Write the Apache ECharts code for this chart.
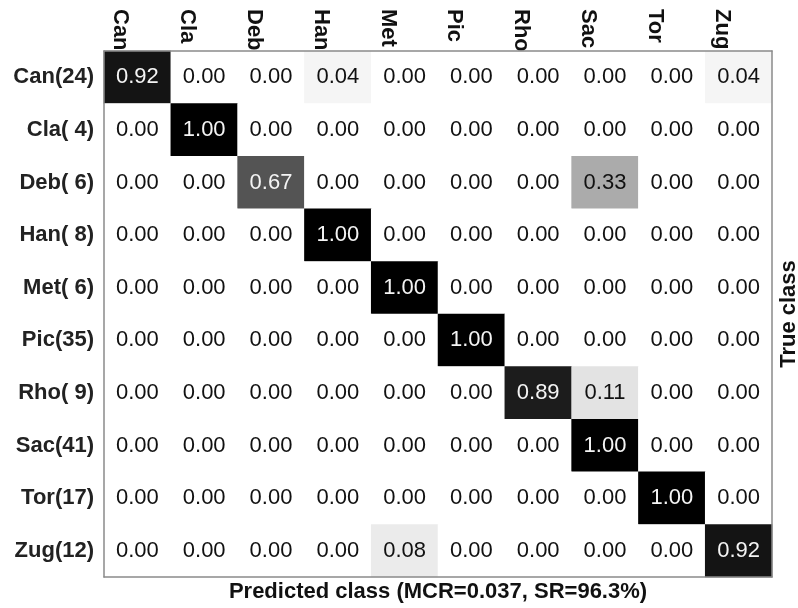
<!DOCTYPE html>
<html>
<head>
<meta charset="utf-8">
<script src="https://cdn.jsdelivr.net/npm/echarts@6/dist/echarts.min.js"></script>
<style>
  html, body { margin: 0; padding: 0; background: #ffffff; }
  #chart { width: 798px; height: 608px; }
</style>
</head>
<body>
<div id="chart"></div>
<script>
// Predicted classes (columns) and true classes with sample counts (rows)
const predictedClasses = ['Can', 'Cla', 'Deb', 'Han', 'Met', 'Pic', 'Rho', 'Sac', 'Tor', 'Zug'];
const trueClassLabels = ['Can(24)', 'Cla( 4)', 'Deb( 6)', 'Han( 8)', 'Met( 6)', 'Pic(35)', 'Rho( 9)', 'Sac(41)', 'Tor(17)', 'Zug(12)'];

// Row-normalised confusion matrix, one array per true class
const rowCan = [0.92, 0.00, 0.00, 0.04, 0.00, 0.00, 0.00, 0.00, 0.00, 0.04];
const rowCla = [0.00, 1.00, 0.00, 0.00, 0.00, 0.00, 0.00, 0.00, 0.00, 0.00];
const rowDeb = [0.00, 0.00, 0.67, 0.00, 0.00, 0.00, 0.00, 0.33, 0.00, 0.00];
const rowHan = [0.00, 0.00, 0.00, 1.00, 0.00, 0.00, 0.00, 0.00, 0.00, 0.00];
const rowMet = [0.00, 0.00, 0.00, 0.00, 1.00, 0.00, 0.00, 0.00, 0.00, 0.00];
const rowPic = [0.00, 0.00, 0.00, 0.00, 0.00, 1.00, 0.00, 0.00, 0.00, 0.00];
const rowRho = [0.00, 0.00, 0.00, 0.00, 0.00, 0.00, 0.89, 0.11, 0.00, 0.00];
const rowSac = [0.00, 0.00, 0.00, 0.00, 0.00, 0.00, 0.00, 1.00, 0.00, 0.00];
const rowTor = [0.00, 0.00, 0.00, 0.00, 0.00, 0.00, 0.00, 0.00, 1.00, 0.00];
const rowZug = [0.00, 0.00, 0.00, 0.00, 0.08, 0.00, 0.00, 0.00, 0.00, 0.92];

const xTitle = 'Predicted class (MCR=0.037, SR=96.3%)';
const yTitle = 'True class';

const matrix = [rowCan, rowCla, rowDeb, rowHan, rowMet, rowPic, rowRho, rowSac, rowTor, rowZug];

const FONT = "'Liberation Sans', Arial, sans-serif";
const LINE = { show: true, lineStyle: { color: '#8a8a8a', width: 1.5 } };

const cells = [];
matrix.forEach((row, r) => {
  row.forEach((v, c) => {
    cells.push({
      value: [c, r, v],
      label: { color: v > 0.5 ? '#f4f4f4' : '#111111' }
    });
  });
});

const chart = echarts.init(document.getElementById('chart'), null, { renderer: 'canvas' });

chart.setOption({
  animation: false,
  backgroundColor: '#ffffff',
  grid: { left: 104, top: 51, width: 668, height: 526, containLabel: false, outerBoundsMode: 'none' },
  xAxis: [
    {
      // column names along the top, running down and tucked under the matrix
      type: 'category',
      data: predictedClasses,
      position: 'top',
      z: 0,
      axisLine: { show: false },
      axisTick: { show: false },
      splitLine: { show: false },
      axisLabel: {
        interval: 0,
        rotate: 90,
        align: 'left',
        verticalAlign: 'top',
        margin: 42,
        padding: [6, 0, 0, 0],
        fontFamily: FONT,
        fontSize: 22,
        fontWeight: 'bold',
        color: '#111111'
      }
    },
    {
      type: 'category',
      data: predictedClasses,
      position: 'bottom',
      z: 5,
      axisLine: LINE,
      axisTick: { show: false },
      axisLabel: { show: false },
      name: xTitle,
      nameLocation: 'middle',
      nameGap: 4,
      nameTextStyle: { fontFamily: FONT, fontSize: 22, fontWeight: 'bold', color: '#111111', verticalAlign: 'top' }
    },
    {
      type: 'category',
      data: predictedClasses,
      position: 'top',
      z: 5,
      axisLine: LINE,
      axisTick: { show: false },
      axisLabel: { show: false }
    }
  ],
  yAxis: [
    {
      type: 'category',
      data: trueClassLabels,
      inverse: true,
      position: 'left',
      z: 5,
      axisLine: LINE,
      axisTick: { show: false },
      splitLine: { show: false },
      axisLabel: {
        interval: 0,
        margin: 10,
        fontFamily: FONT,
        fontSize: 22,
        fontWeight: 'bold',
        color: '#222222'
      }
    },
    {
      type: 'category',
      data: trueClassLabels,
      inverse: true,
      position: 'right',
      z: 5,
      axisLine: LINE,
      axisTick: { show: false },
      axisLabel: { show: false },
      name: yTitle,
      nameLocation: 'middle',
      nameRotate: 90,
      nameGap: 6,
      nameTextStyle: { fontFamily: FONT, fontSize: 22, fontWeight: 'bold', color: '#111111' }
    }
  ],
  visualMap: {
    show: false,
    type: 'continuous',
    min: 0,
    max: 1,
    dimension: 2,
    seriesIndex: 0,
    inRange: { color: ['#ffffff', '#000000'] }
  },
  series: [
    {
      type: 'heatmap',
      xAxisIndex: 0,
      yAxisIndex: 0,
      data: cells,
      itemStyle: { borderWidth: 0 },
      label: {
        show: true,
        fontFamily: FONT,
        fontSize: 22,
        formatter: p => p.value[2].toFixed(2)
      },
      emphasis: { disabled: true }
    }
  ]
});
</script>
</body>
</html>
